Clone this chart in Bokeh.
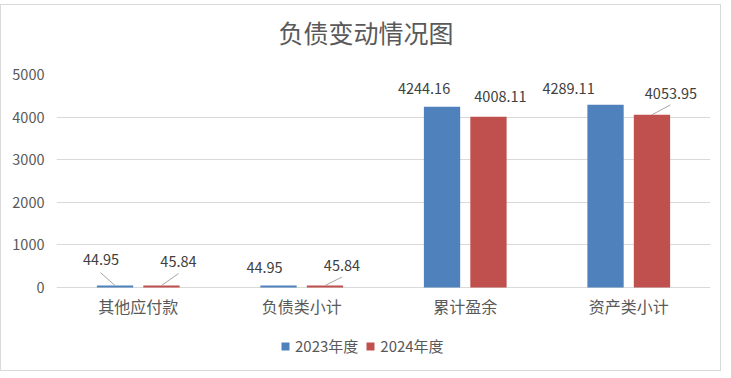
from bokeh.plotting import figure
from bokeh.models import (ColumnDataSource, Range1d, FixedTicker, Legend, LegendItem, Title)
from bokeh.embed import file_html
from bokeh.resources import INLINE

# ---- data ----
categories = ["其他应付款", "负债类小计", "累计盈余", "资产类小计"]
series_names = ["2023年度", "2024年度"]
values_2023 = [44.95, 44.95, 4244.16, 4289.11]
values_2024 = [45.84, 45.84, 4008.11, 4053.95]
y_ticks = [0, 1000, 2000, 3000, 4000, 5000]
title_text = "负债变动情况图"

# ---- styles ----
BLUE = "#4F81BD"
RED = "#C0504D"
GRID = "#D9D9D9"
TXT = "#595959"
LBL = "#404040"
FONT = "Noto Sans CJK SC"

W, H = 721, 367                 # canvas (inside a 1px border)
LEFT, RIGHT, TOP = 55, 12, 69
ZERO_TO_BOTTOM = 85             # px of frame kept below the zero line (axis labels, legend)
Y_MAX = 5000
X_MAX = len(categories)
FRAME_W = W - LEFT - RIGHT
PLOT_H = H - TOP - ZERO_TO_BOTTOM
PX_X = FRAME_W / X_MAX
PX_Y = PLOT_H / Y_MAX
Y_MIN = -ZERO_TO_BOTTOM / PX_Y

BAR_W = 0.222
DODGE = 0.142

# data label offsets (px, +x right, +y down) relative to bar top centre
lab_off_2023 = [(-14, -26), (-14, -18), (-18, -18), (-37, -16)]
lab_off_2024 = [(17, -24), (17, -20), (12, -20), (19, -21)]
# leader line start offsets (px, +y down) or None
lead_2023 = [(-14.5, -13), None, None, None]
lead_2024 = [(17, -12), (17, -8.5), None, (18.5, -10)]

p = figure(width=W, height=H, output_backend="svg", toolbar_location=None,
           x_range=Range1d(0, X_MAX), y_range=Range1d(Y_MIN, Y_MAX),
           min_border_left=LEFT, min_border_right=RIGHT,
           min_border_top=TOP, min_border_bottom=0, title=None)
p.styles = {"border": "1px solid #D9D9D9", "margin-top": "4px"}
p.outline_line_color = None
p.background_fill_color = "white"
p.border_fill_color = "white"

# spacer (nearest to the frame) and the title above it
p.add_layout(Title(text=" ", text_font_size="1px", standoff=22), "above")
p.add_layout(Title(text=title_text, align="left", offset=222, text_font=FONT,
                   text_font_size="25px", text_font_style="normal", text_color=TXT,
                   standoff=0), "above")

centers = [i + 0.5 for i in range(len(categories))]

renderers = []
for vals, off, col, offs, leads in [
        (values_2023, -DODGE, BLUE, lab_off_2023, lead_2023),
        (values_2024, DODGE, RED, lab_off_2024, lead_2024)]:
    xs = [c + off for c in centers]
    src = ColumnDataSource(dict(x=xs, top=vals,
                                lab=[f"{v:.2f}" for v in vals],
                                dx=[o[0] for o in offs], dy=[o[1] for o in offs]))
    r = p.vbar(x="x", top="top", width=BAR_W, bottom=0, source=src,
               fill_color=col, line_color=None)
    renderers.append(r)
    p.text(x="x", y="top", text="lab", x_offset="dx", y_offset="dy", source=src,
           text_align="center", text_baseline="middle", text_font_size="14.5px",
           text_color=LBL, text_font={"value": FONT})
    x0, y0, x1, y1 = [], [], [], []
    for x, v, ld in zip(xs, vals, leads):
        if ld is None:
            continue
        x0.append(x + ld[0] / PX_X)
        y0.append(v - ld[1] / PX_Y)
        x1.append(x)
        y1.append(v)
    if x0:
        p.segment(x0=x0, y0=y0, x1=x1, y1=y1, line_color="#A6A6A6", line_width=1)

# axes
p.yaxis.ticker = FixedTicker(ticks=y_ticks)
p.yaxis.axis_line_color = None
p.yaxis.major_tick_line_color = None
p.yaxis.minor_tick_line_color = None
p.yaxis.major_tick_out = 0
p.yaxis.major_tick_in = 0
p.yaxis.major_label_standoff = 12
p.yaxis.major_label_text_font = FONT
p.yaxis.major_label_text_font_size = "14.5px"
p.yaxis.major_label_text_color = TXT

p.xaxis.ticker = FixedTicker(ticks=centers)
p.xaxis.major_label_overrides = {c: n for c, n in zip(centers, categories)}
p.xaxis.fixed_location = 0
p.xaxis.axis_line_color = None
p.xaxis.major_tick_line_color = None
p.xaxis.minor_tick_line_color = None
p.xaxis.major_tick_out = 0
p.xaxis.major_tick_in = 0
p.xaxis.major_label_standoff = 6
p.xaxis.major_label_text_font = FONT
p.xaxis.major_label_text_font_size = "16px"
p.xaxis.major_label_text_color = TXT

p.xgrid.grid_line_color = None
p.ygrid.ticker = FixedTicker(ticks=y_ticks)
p.ygrid.grid_line_color = GRID

legend = Legend(items=[LegendItem(label=n, renderers=[r]) for n, r in zip(series_names, renderers)],
                orientation="horizontal", location=(224, 16),
                label_text_font=FONT, label_text_font_size="15px", label_text_color=TXT,
                glyph_width=10, glyph_height=10, label_standoff=5, spacing=7,
                padding=0, margin=0, border_line_color=None, background_fill_alpha=0)
p.add_layout(legend)

open("out.html", "w").write(file_html(p, INLINE))
